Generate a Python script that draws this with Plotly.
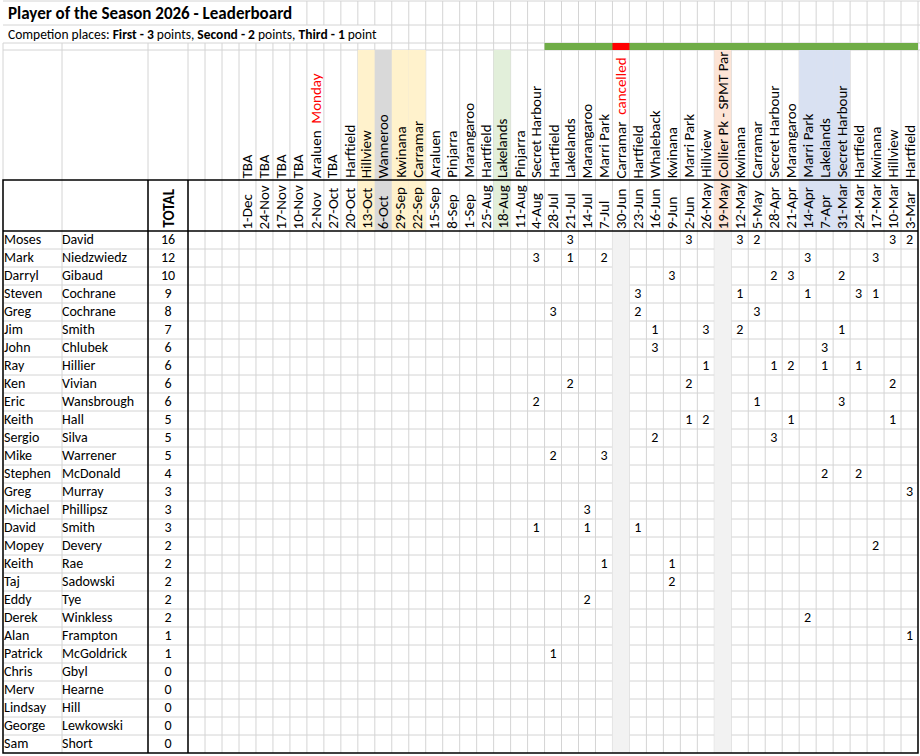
import plotly.graph_objects as go

# ---- data -----------------------------------------------------------------
first_names = ["Moses", "Mark", "Darryl", "Steven", "Greg", "Jim", "John", "Ray", "Ken", "Eric",
               "Keith", "Sergio", "Mike", "Stephen", "Greg", "Michael", "David", "Mopey", "Keith",
               "Taj", "Eddy", "Derek", "Alan", "Patrick", "Chris", "Merv", "Lindsay", "George", "Sam"]
last_names = ["David", "Niedzwiedz", "Gibaud", "Cochrane", "Cochrane", "Smith", "Chlubek", "Hillier",
              "Vivian", "Wansbrough", "Hall", "Silva", "Warrener", "McDonald", "Murray", "Phillipsz",
              "Smith", "Devery", "Rae", "Sadowski", "Tye", "Winkless", "Frampton", "McGoldrick",
              "Gbyl", "Hearne", "Hill", "Lewkowski", "Short"]
totals = [16, 12, 10, 9, 8, 7, 6, 6, 6, 6, 5, 5, 5, 4, 3, 3, 3, 2, 2, 2, 2, 2, 1, 1, 0, 0, 0, 0, 0]

dates = ["1-Dec", "24-Nov", "17-Nov", "10-Nov", "2-Nov", "27-Oct", "20-Oct", "13-Oct", "6-Oct",
         "29-Sep", "22-Sep", "15-Sep", "8-Sep", "1-Sep", "25-Aug", "18-Aug", "11-Aug", "4-Aug",
         "28-Jul", "21-Jul", "14-Jul", "7-Jul", "30-Jun", "23-Jun", "16-Jun", "9-Jun", "2-Jun",
         "26-May", "19-May", "12-May", "5-May", "28-Apr", "21-Apr", "14-Apr", "7-Apr", "31-Mar",
         "24-Mar", "17-Mar", "10-Mar", "3-Mar"]
venues = ["TBA", "TBA", "TBA", "TBA", "Araluen", "TBA", "Harftield", "Hillview", "Wanneroo",
          "Kwinana", "Carramar", "Araluen", "Pinjarra", "Marangaroo", "Hartfield", "Lakelands",
          "Pinjarra", "Secret Harbour", "Hartfield", "Lakelands", "Marangaroo", "Marri Park",
          "Carramar", "Hartfield", "Whaleback", "Kwinana", "Marri Park", "Hillview",
          "Collier Pk - SPMT Par", "Kwinana", "Carramar", "Secret Harbour", "Marangaroo",
          "Marri Park", "Lakelands", "Secret Harbour", "Hartfield", "Kwinana", "Hillview", "Hartfield"]
venue_notes = {"2-Nov": "Monday", "30-Jun": "cancelled"}

# points per player, keyed by competition date
points = [
    {"21-Jul": 3, "2-Jun": 3, "12-May": 3, "5-May": 2, "10-Mar": 3, "3-Mar": 2},
    {"4-Aug": 3, "21-Jul": 1, "7-Jul": 2, "14-Apr": 3, "17-Mar": 3},
    {"9-Jun": 3, "28-Apr": 2, "21-Apr": 3, "31-Mar": 2},
    {"23-Jun": 3, "12-May": 1, "14-Apr": 1, "24-Mar": 3, "17-Mar": 1},
    {"28-Jul": 3, "23-Jun": 2, "5-May": 3},
    {"16-Jun": 1, "26-May": 3, "12-May": 2, "31-Mar": 1},
    {"16-Jun": 3, "7-Apr": 3},
    {"26-May": 1, "28-Apr": 1, "21-Apr": 2, "7-Apr": 1, "24-Mar": 1},
    {"21-Jul": 2, "2-Jun": 2, "10-Mar": 2},
    {"4-Aug": 2, "5-May": 1, "31-Mar": 3},
    {"2-Jun": 1, "26-May": 2, "21-Apr": 1, "10-Mar": 1},
    {"16-Jun": 2, "28-Apr": 3},
    {"28-Jul": 2, "7-Jul": 3},
    {"7-Apr": 2, "24-Mar": 2},
    {"3-Mar": 3},
    {"14-Jul": 3},
    {"4-Aug": 1, "14-Jul": 1, "23-Jun": 1},
    {"17-Mar": 2},
    {"7-Jul": 1, "9-Jun": 1},
    {"9-Jun": 2},
    {"14-Jul": 2},
    {"14-Apr": 2},
    {"3-Mar": 1},
    {"28-Jul": 1},
    {}, {}, {}, {}, {},
]

title = "<b>Player of the Season 2026 - Leaderboard</b>"
subtitle = ("Competion places: <b>First - 3</b> points, <b>Second - 2</b> points, "
            "<b>Third - 1</b> point")

# ---- styling ---------------------------------------------------------------
FONT = "Carlito, Calibri, Lato, sans-serif"
GRID = "#d4d4d4"
header_fill = {"13-Oct": "#fff2cc", "6-Oct": "#d9d9d9", "29-Sep": "#fff2cc", "22-Sep": "#fff2cc",
               "18-Aug": "#e2efda", "19-May": "#fce4d6", "14-Apr": "#d9e1f2", "7-Apr": "#d9e1f2",
               "31-Mar": "#d9e1f2"}
body_fill = {"30-Jun": "#f2f2f2", "19-May": "#f2f2f2"}
season_start = "28-Jul"
cancelled = ["30-Jun"]

# ---- sheet geometry (pixels) -----------------------------------------------
W, H = 920, 756
left_edges = [3, 62, 148, 188, 205, 222, 239]
right = 918
date_w = (right - left_edges[-1]) / len(dates)
date_edges = [left_edges[-1] + k * date_w for k in range(len(dates) + 1)]
date_x = [left_edges[-1] + (k + 0.5) * date_w for k in range(len(dates))]
top_rows = [1, 25, 43, 50, 180, 231]
row_h = 18
row_edges = [231 + k * row_h for k in range(len(first_names) + 1)]
row_y = [231 + (k + 0.5) * row_h for k in range(len(first_names))]
bottom = row_edges[-1]
col_of = {d: i for i, d in enumerate(dates)}

shapes = []


def line(x0, y0, x1, y1, color=GRID, width=1):
    shapes.append(dict(type="line", x0=x0, y0=y0, x1=x1, y1=y1, layer="below",
                       line=dict(color=color, width=width)))


def fill(x0, y0, x1, y1, color):
    shapes.append(dict(type="rect", x0=x0, y0=y0, x1=x1, y1=y1, layer="below",
                       line=dict(width=0), fillcolor=color))


# grid
for x in left_edges[:-1] + date_edges:
    if x > 300:
        line(x, top_rows[0], x, top_rows[1])
    if x > 375:
        line(x, top_rows[1], x, top_rows[2])
    line(x, top_rows[2], x, bottom)
for y in top_rows[:4]:
    line(left_edges[0], y, W, y)
for y in row_edges[1:-1]:
    line(left_edges[0], y, right, y)

# coloured cells
for d, c in header_fill.items():
    i = col_of[d]
    fill(date_edges[i], top_rows[3], date_edges[i + 1], top_rows[5], c)
for d, c in body_fill.items():
    i = col_of[d]
    fill(date_edges[i], top_rows[5], date_edges[i + 1], bottom, c)
i0 = col_of[season_start]
fill(date_edges[i0], top_rows[2], date_edges[-1], top_rows[3], "#70ad47")
for d in cancelled:
    i = col_of[d]
    fill(date_edges[i], top_rows[2], date_edges[i + 1], top_rows[3], "#ff0000")

# borders
shapes.append(dict(type="rect", x0=left_edges[0], y0=top_rows[4], x1=right, y1=bottom,
                   layer="below", line=dict(color="black", width=1.5)))
line(left_edges[0], top_rows[5], right, top_rows[5], "black", 1.5)
line(left_edges[2], top_rows[4], left_edges[2], bottom, "black", 1.5)
line(left_edges[3], top_rows[4], left_edges[3], bottom, "black", 1.5)

# ---- traces ----------------------------------------------------------------
fig = go.Figure()
txt = dict(family=FONT, size=14, color="black")
rot = dict(family=FONT, size=15, color="black")

fig.add_trace(go.Scatter(x=[left_edges[0] + 1] * len(first_names), y=row_y, text=first_names,
                         mode="text", textposition="middle right", textfont=txt, hoverinfo="skip"))
fig.add_trace(go.Scatter(x=[left_edges[1]] * len(last_names), y=row_y, text=last_names,
                         mode="text", textposition="middle right", textfont=txt, hoverinfo="skip"))
fig.add_trace(go.Scatter(x=[(left_edges[2] + left_edges[3]) / 2] * len(totals), y=row_y,
                         text=[str(t) for t in totals], mode="text",
                         textposition="middle center", textfont=txt, hoverinfo="skip"))

px, py, pt = [], [], []
for r, row in enumerate(points):
    for d, v in row.items():
        px.append(date_x[col_of[d]])
        py.append(row_y[r])
        pt.append(str(v))
fig.add_trace(go.Scatter(x=px, y=py, text=pt, mode="text", textposition="middle center",
                         textfont=txt, hoverinfo="skip"))

annotations = [
    dict(x=left_edges[0] + 4, y=(top_rows[0] + top_rows[1]) / 2, text=title, xanchor="left",
         yanchor="middle", font=dict(family=FONT, size=17, color="black")),
    dict(x=left_edges[0] + 4, y=(top_rows[1] + top_rows[2]) / 2, text=subtitle, xanchor="left",
         yanchor="middle", font=dict(family=FONT, size=13.5, color="black")),
    dict(x=(left_edges[2] + left_edges[3]) / 2, y=top_rows[5] - 2, text="<b>TOTAL</b>",
         textangle=-90, xanchor="center", yanchor="bottom", font=rot),
]
for i, (d, v) in enumerate(zip(dates, venues)):
    label = v
    if d in venue_notes:
        label = v + "\u00a0\u00a0<span style='color:#ff0000'>" + venue_notes[d] + "</span>"
    annotations.append(dict(x=date_x[i], y=top_rows[4] - 1, text=label, textangle=-90,
                            xanchor="center", yanchor="bottom", font=rot))
    annotations.append(dict(x=date_x[i], y=top_rows[5] - 1, text=d, textangle=-90,
                            xanchor="center", yanchor="bottom", font=rot))
for a in annotations:
    a.update(xref="x", yref="y", showarrow=False, borderpad=0)

fig.update_layout(
    width=W, height=H, margin=dict(l=0, r=0, t=0, b=0),
    paper_bgcolor="white", plot_bgcolor="white", showlegend=False,
    xaxis=dict(range=[0, W], visible=False, fixedrange=True),
    yaxis=dict(range=[H, 0], visible=False, fixedrange=True),
    shapes=shapes, annotations=annotations,
)

# the page's default 8px body margin would shift the sheet; drop it
fig.write_html("out.html", config={"displayModeBar": False},
               post_script="document.body.style.margin = '0px';")
